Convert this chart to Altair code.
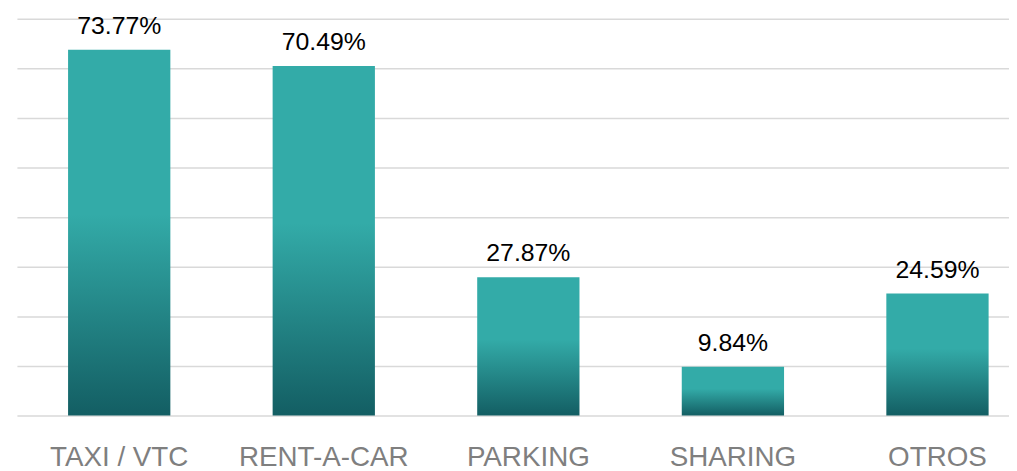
import altair as alt
import pandas as pd

categories = ["TAXI / VTC", "RENT-A-CAR", "PARKING", "SHARING", "OTROS"]
values = [73.77, 70.49, 27.87, 9.84, 24.59]
labels = ["73.77%", "70.49%", "27.87%", "9.84%", "24.59%"]

df = pd.DataFrame({"cat": categories, "val": values, "lab": labels})

grad = alt.Gradient(
    gradient="linear",
    x1=0, x2=0, y1=0, y2=1,
    stops=[
        alt.GradientStop(color="#33aba8", offset=0),
        alt.GradientStop(color="#33aba8", offset=0.45),
        alt.GradientStop(color="#135e63", offset=1),
    ],
)

x = alt.X(
    "cat:N",
    sort=categories,
    title=None,
    scale=alt.Scale(range=[0, 1031], paddingInner=0.5, paddingOuter=0.25),
    axis=alt.Axis(
        labelAngle=0,
        ticks=False,
        domain=False,
        grid=False,
        labelFont="Liberation Sans",
        labelFontSize=28,
        labelColor="#7f7f7f",
        labelBaseline="alphabetic",
        labelPadding=50,
    ),
)
y = alt.Y(
    "val:Q",
    title=None,
    scale=alt.Scale(domain=[0, 80]),
    axis=alt.Axis(
        values=[0, 10, 20, 30, 40, 50, 60, 70, 80],
        labels=False,
        ticks=False,
        domain=False,
        grid=True,
        gridColor="#d9d9d9",
        gridWidth=1.5,
    ),
)

bars = alt.Chart(df).mark_bar(color=grad).encode(x=x, y=y)
text = alt.Chart(df).mark_text(
    font="Liberation Sans", fontSize=25, color="#000000",
    baseline="alphabetic", dy=-16,
).encode(x=alt.X("cat:N", sort=categories), y="val:Q", text="lab:N")

chart = (bars + text).properties(
    width=1000,
    height=400,
    autosize="none",
    padding={"left": 9, "top": 9, "right": 0, "bottom": 54},
).configure_view(stroke=None)

chart.save("out.html", embed_options={"renderer": "svg", "actions": False})
